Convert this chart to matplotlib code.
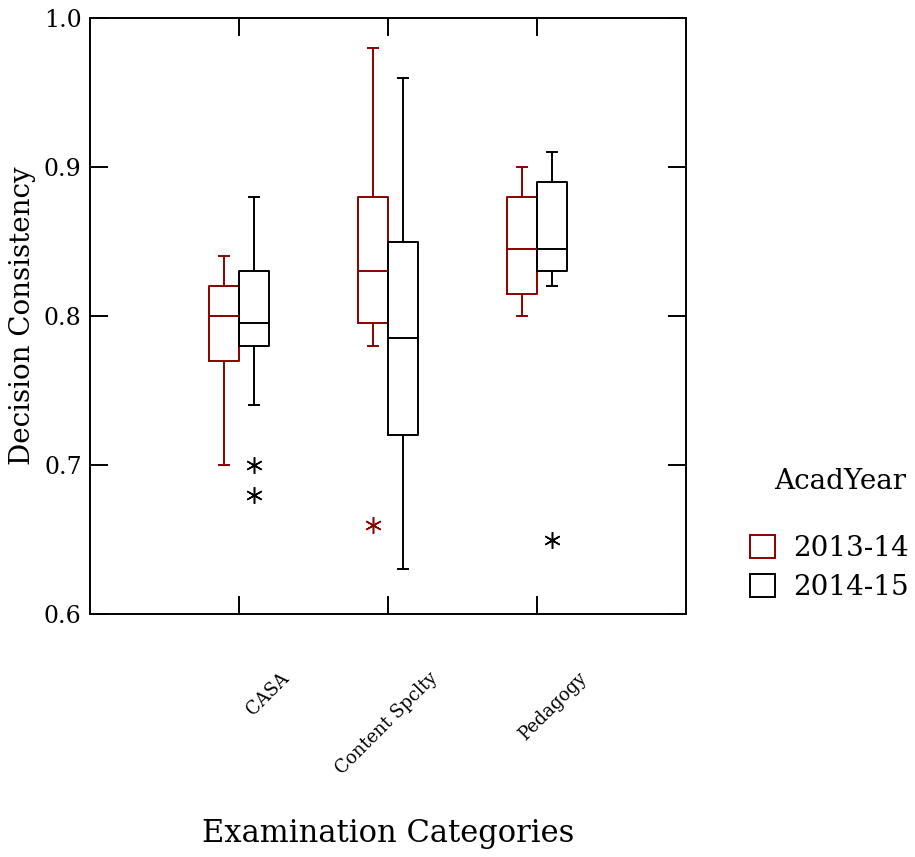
import numpy as np
import matplotlib.pyplot as plt
from matplotlib.patches import Patch
from matplotlib.transforms import ScaledTranslation

plt.rcParams['font.family'] = ['DejaVu Serif']

# Werte
kategorien = ["CASA", "Content Spclty", "Pedagogy"]
jahre = ["2013-14", "2014-15"]

med_1314 = [0.800, 0.830, 0.845]
q1_1314 = [0.770, 0.795, 0.815]
q3_1314 = [0.820, 0.880, 0.880]
lo_1314 = [0.700, 0.780, 0.800]
hi_1314 = [0.840, 0.980, 0.900]
aus_1314 = [[], [0.660], []]

med_1415 = [0.795, 0.785, 0.845]
q1_1415 = [0.780, 0.720, 0.830]
q3_1415 = [0.830, 0.850, 0.890]
lo_1415 = [0.740, 0.630, 0.820]
hi_1415 = [0.880, 0.960, 0.910]
aus_1415 = [[0.700, 0.680], [], [0.650]]

rot = "#8b0000"
farben = [rot, "black"]

def statistik(med, q1, q3, lo, hi, aus):
    st = []
    for i in range(len(med)):
        st.append(dict(med=med[i], q1=q1[i], q3=q3[i], whislo=lo[i],
                       whishi=hi[i], fliers=aus[i]))
    return st

gruppen = [statistik(med_1314, q1_1314, q3_1314, lo_1314, hi_1314, aus_1314),
           statistik(med_1415, q1_1415, q3_1415, lo_1415, hi_1415, aus_1415)]

fig = plt.figure(figsize=(9.15, 8.57), dpi=100)
ax = fig.add_axes([0.0984, 0.2835, 0.6513, 0.6955])

x = np.arange(1, len(kategorien) + 1)
for j, (st, f) in enumerate(zip(gruppen, farben)):
    lw = 1.4
    ax.bxp(st, positions=x + (j - 0.5) * 0.2, widths=0.2, capwidths=0.07,
           showfliers=True, manage_ticks=False,
           boxprops=dict(color=f, lw=lw),
           medianprops=dict(color=f, lw=lw),
           whiskerprops=dict(color=f, lw=lw),
           capprops=dict(color=f, lw=lw),
           flierprops=dict(marker=(6, 2, 0), markeredgecolor=f,
                           markerfacecolor=f, markersize=12, markeredgewidth=1.1,
                           linestyle="none"))

ax.set_xlim(0, 4)
ax.set_ylim(0.6, 1.0)
ax.set_yticks([0.6, 0.7, 0.8, 0.9, 1.0])
ax.set_yticklabels(["0.6", "0.7", "0.8", "0.9", "1.0"])
ax.set_xticks(x)
ax.set_xticklabels(kategorien, rotation=45, ha="right", va="center",
                   rotation_mode="anchor", fontsize=13)
ax.tick_params(axis="both", direction="in", length=13, width=1.4,
               top=True, right=True, labelsize=17, pad=6)
ax.tick_params(axis="x", labelsize=13, pad=44)
for lab in ax.get_xticklabels():
    lab.set_transform(lab.get_transform() + ScaledTranslation(0.47, 0, fig.dpi_scale_trans))
for s in ax.spines.values():
    s.set_linewidth(1.4)

ax.set_ylabel("Decision Consistency", fontsize=20, labelpad=6)
ax.set_xlabel("Examination Categories", fontsize=22, labelpad=29)

griffe = [Patch(facecolor="none", edgecolor=f, lw=1.4) for f in farben]
fig.text(0.918, 0.4387, "AcadYear", fontsize=20, ha="center", va="center")
fig.legend(griffe, jahre, loc="center left",
           bbox_to_anchor=(0.8197, 0.337), frameon=False, fontsize=20,
           handlelength=0.9, handleheight=0.9,
           handletextpad=0.65, labelspacing=0.44, borderpad=0, borderaxespad=0)

fig.savefig("out.png", dpi=100)
